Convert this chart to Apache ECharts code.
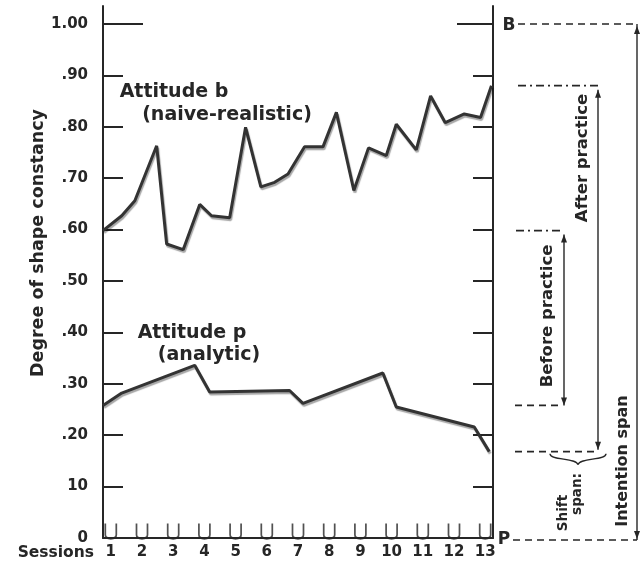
<!DOCTYPE html>
<html>
<head>
<meta charset="utf-8">
<script src="https://cdn.jsdelivr.net/npm/echarts@6/dist/echarts.min.js"></script>
<style>
  html, body { margin: 0; padding: 0; background: #fff; }
  #chart { width: 642px; height: 569px; }
</style>
</head>
<body>
<div id="chart"></div>
<script>
// session positions (fractional) and constancy values
var bSessions = [0.75, 1.35, 1.77, 2.47, 2.79, 3.32, 3.85, 4.23, 4.81, 5.32, 5.81, 6.25, 6.68,
                 7.21, 7.80, 8.23, 8.79, 9.26, 9.83, 10.15, 10.79, 11.25, 11.72, 12.33, 12.85, 13.2];
var bValues = [0.598, 0.627, 0.656, 0.763, 0.572, 0.561, 0.649, 0.627, 0.623, 0.799, 0.683, 0.692, 0.708,
               0.761, 0.761, 0.828, 0.676, 0.759, 0.744, 0.805, 0.755, 0.860, 0.808, 0.825, 0.818, 0.880];
var pSessions = [0.75, 1.35, 3.69, 4.17, 6.73, 7.16, 9.72, 10.15, 12.65, 13.13];
var pValues = [0.258, 0.282, 0.336, 0.284, 0.287, 0.262, 0.321, 0.255, 0.216, 0.168];

var yTickValues = [0, 0.1, 0.2, 0.3, 0.4, 0.5, 0.6, 0.7, 0.8, 0.9, 1.0];
var yTickLabels = ['0', '10', '.20', '.30', '.40', '.50', '.60', '.70', '.80', '.90', '1.00'];
var sessions = [1, 2, 3, 4, 5, 6, 7, 8, 9, 10, 11, 12, 13];

var INK = '#262626';
var FONT = 'DejaVu Sans';

function pairs(xs, ys) {
  return xs.map(function (x, i) { return [x, ys[i]]; });
}

var chart = echarts.init(document.getElementById('chart'));

chart.setOption({
  animation: false,
  grid: { left: 103, right: 149, top: 6, bottom: 31 },
  xAxis: {
    type: 'value', min: 0.75, max: 13.25,
    axisLine: { show: true, lineStyle: { color: INK, width: 2 } },
    axisTick: { show: false },
    splitLine: { show: false },
    axisLabel: {
      customValues: sessions, margin: 7,
      color: INK, fontFamily: FONT, fontWeight: 'bold', fontSize: 15
    }
  },
  yAxis: [{
    type: 'value', min: 0, max: 1.035, position: 'left',
    axisLine: { show: true, lineStyle: { color: INK, width: 2 } },
    axisTick: { show: true, inside: true, length: 20, customValues: yTickValues, lineStyle: { color: INK, width: 2 } },
    splitLine: { show: false },
    axisLabel: {
      customValues: yTickValues, margin: 15,
      color: INK, fontFamily: FONT, fontWeight: 'bold', fontSize: 15,
      formatter: function (v) { return yTickLabels[yTickValues.indexOf(Math.round(v * 10) / 10)]; }
    }
  }, {
    type: 'value', min: 0, max: 1.035, position: 'right',
    axisLine: { show: true, lineStyle: { color: INK, width: 2 } },
    axisTick: { show: true, inside: true, length: 20, customValues: yTickValues, lineStyle: { color: INK, width: 2 } },
    splitLine: { show: false },
    axisLabel: { show: false }
  }],
  series: [{
    name: 'Attitude b', type: 'line', data: pairs(bSessions, bValues),
    symbol: 'none', clip: false,
    lineStyle: { color: '#333', width: 3, shadowColor: 'rgba(0,0,0,0.35)', shadowBlur: 1, shadowOffsetX: 1, shadowOffsetY: 2 }
  }, {
    name: 'Attitude p', type: 'line', data: pairs(pSessions, pValues),
    symbol: 'none', clip: false,
    lineStyle: { color: '#333', width: 3, shadowColor: 'rgba(0,0,0,0.35)', shadowBlur: 1, shadowOffsetX: 1, shadowOffsetY: 2 }
  }, {
    name: 'ticks', type: 'scatter', data: sessions.map(function (s) { return [s, 0]; }),
    symbol: 'path://M0,0 L0,12 Q0,16 5,16 Q10,16 10,12 L10,0',
    symbolSize: [11, 15], symbolOffset: [0, -7], clip: false, silent: true,
    itemStyle: { color: 'transparent', borderColor: INK, borderWidth: 2 }
  }]
});

// annotations on the right side, placed through the y scale
function py(v) { return chart.convertToPixel({ yAxisIndex: 0 }, v); }
function px(v) { return chart.convertToPixel({ xAxisIndex: 0 }, v); }

var yB = py(1.0), yP = py(0);
var yAfterTop = py(bValues[bValues.length - 1]), yAfterBot = py(pValues[pValues.length - 1]);
var yBeforeTop = py(bValues[0]), yBeforeBot = py(pValues[0]);
var xL = px(0.75), xR = px(13.25);

function hline(x1, x2, y, dash, w) {
  return { type: 'line', shape: { x1: x1, y1: y, x2: x2, y2: y },
    style: { stroke: INK, lineWidth: w || 1.6, lineDash: dash || null } };
}
function vline(x, y1, y2) {
  return { type: 'line', shape: { x1: x, y1: y1, x2: x, y2: y2 }, style: { stroke: INK, lineWidth: 1.4 } };
}
function arrow(x, y, up) {
  var d = up ? 8 : -8;
  return { type: 'polygon', shape: { points: [[x, y], [x - 3, y + d], [x + 3, y + d]] }, style: { fill: INK } };
}
function label(text, x, y, size, rot) {
  return { type: 'text', x: x, y: y, rotation: rot || 0,
    style: { text: text, fill: INK, font: 'bold ' + size + 'px "' + FONT + '"',
      textAlign: 'center', textVerticalAlign: 'middle', align: 'center', verticalAlign: 'middle' } };
}
function curve(x1, y1, cx1, cy1, cx2, cy2, x2, y2) {
  return { type: 'bezierCurve', shape: { x1: x1, y1: y1, cpx1: cx1, cpy1: cy1, cpx2: cx2, cpy2: cy2, x2: x2, y2: y2 },
    style: { fill: null, stroke: INK, lineWidth: 1.4 } };
}

var R = Math.PI / 2;
var yb = yAfterBot;
chart.setOption({
  graphic: [
    // longer top ticks at 1.00
    hline(xL, xL + 40, yB, null, 2), hline(xR - 36, xR, yB, null, 2),
    // series names
    label('Attitude b', 174, 92, 19), label('(naive-realistic)', 227, 115, 19),
    label('Attitude p', 192, 333, 19), label('(analytic)', 209, 355, 19),
    label('Degree of shape constancy', 38, 243, 17.5, R),
    { type: 'text', x: 94, y: 553, style: { text: 'Sessions', fill: INK, font: 'bold 15.5px "' + FONT + '"',
      textAlign: 'right', textVerticalAlign: 'middle', align: 'right', verticalAlign: 'middle' } },
    // B and P levels
    label('B', 509, yB + 2, 17), label('P', 504, yP + 2, 17),
    hline(518, 637, yB, [7, 5]), hline(513, 637, yP + 2, [7, 5]),
    vline(637, yB, yP + 2), arrow(637, yB + 2, true), arrow(637, yP + 1, false),
    label('Intention span', 623, 461, 16, R),
    // after practice
    hline(518, 598, yAfterTop, [8, 4, 2, 4]), vline(598, yAfterTop + 4, yAfterBot - 2),
    arrow(598, yAfterTop + 4, true), arrow(598, yAfterBot - 2, false),
    label('After practice', 583, 158, 16.5, R),
    // before practice
    hline(516, 564, yBeforeTop, [8, 4, 2, 4]), vline(564, yBeforeTop + 4, yBeforeBot),
    arrow(564, yBeforeTop + 4, true), arrow(564, yBeforeBot, false),
    hline(515, 561, yBeforeBot, [7, 5]),
    label('Before practice', 548, 316, 16.5, R),
    // shift span
    hline(515, 596, yAfterBot, [7, 5]),
    curve(550, yb + 2, 550, yb + 9, 576, yb + 6, 578, yb + 13),
    curve(578, yb + 13, 580, yb + 6, 606, yb + 9, 606, yb + 2),
    label('Shift', 563, 513, 13.5, R), label('span:', 577, 494, 13.5, R)
  ]
});
</script>
</body>
</html>
